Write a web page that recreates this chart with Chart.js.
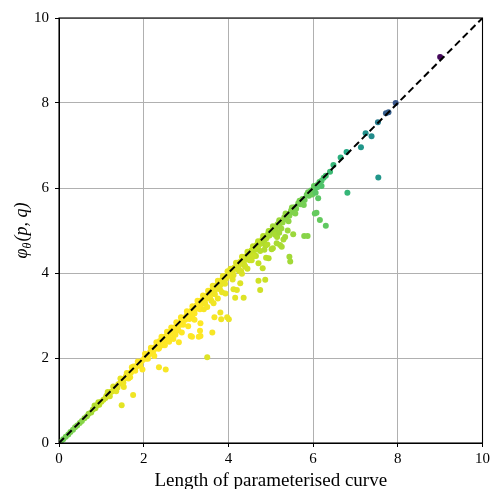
<!DOCTYPE html>
<html>
<head>
<meta charset="utf-8">
<script src="https://cdn.jsdelivr.net/npm/chart.js@4.4.1/dist/chart.umd.min.js"></script>
<style>
    html, body { margin: 0; padding: 0; background: #fff; }
    #wrap { width: 493px; height: 489px; }
</style>
</head>
<body>
<div id="wrap"><canvas id="curveChart"></canvas></div>
<script>
// [length of curve, phi_theta(p, q), colour value 0..1 on viridis]
const nearOrigin = [
    [0.04, 0.03, 0.78], [0.10, 0.09, 0.78], [0.16, 0.15, 0.79], [0.22, 0.20, 0.79],
    [0.27, 0.26, 0.80], [0.33, 0.31, 0.80], [0.38, 0.37, 0.81], [0.43, 0.41, 0.81],
    [0.49, 0.47, 0.82], [0.54, 0.52, 0.82], [0.60, 0.58, 0.83], [0.66, 0.63, 0.84],
    [0.70, 0.69, 0.85], [0.76, 0.72, 0.86], [0.80, 0.79, 0.87], [0.86, 0.82, 0.88],
    [0.90, 0.89, 0.89], [0.95, 0.90, 0.90], [1.00, 0.97, 0.91], [0.84, 0.88, 0.88],
    [0.93, 0.96, 0.90]
];
const band1to2 = [
    [1.05, 1.02, 0.92], [1.10, 1.06, 0.93], [1.12, 1.11, 0.93], [1.18, 1.14, 0.94],
    [1.22, 1.20, 0.94], [1.25, 1.21, 0.95], [1.30, 1.27, 0.95], [1.33, 1.31, 0.96],
    [1.36, 1.32, 0.96], [1.40, 1.38, 0.97], [1.44, 1.40, 0.97], [1.47, 1.46, 0.97],
    [1.50, 1.45, 0.98], [1.55, 1.52, 0.98], [1.58, 1.57, 0.98], [1.62, 1.58, 0.99],
    [1.66, 1.64, 0.99], [1.70, 1.66, 0.99], [1.73, 1.72, 1.00], [1.76, 1.80, 1.00],
    [1.78, 1.74, 1.00], [1.82, 1.79, 1.00], [1.85, 1.84, 1.00], [1.88, 1.83, 1.00],
    [1.90, 1.90, 1.00], [1.94, 1.92, 1.00], [1.97, 1.95, 1.00],
    [1.15, 1.20, 0.93], [1.28, 1.33, 0.95], [1.38, 1.30, 0.96], [1.45, 1.52, 0.97],
    [1.52, 1.42, 0.98], [1.60, 1.65, 0.98], [1.64, 1.52, 0.99], [1.72, 1.78, 0.99],
    [1.80, 1.70, 1.00], [1.86, 1.92, 1.00], [1.92, 1.82, 1.00], [1.20, 1.10, 0.94],
    [1.35, 1.22, 0.96],
    [1.48, 0.89, 0.96], [1.75, 1.13, 0.98], [1.53, 1.32, 0.98], [1.68, 1.55, 0.99],
    [1.97, 1.73, 1.00]
];
const band2to3 = [
    [2.02, 2.00, 1.00], [2.05, 1.98, 1.00], [2.08, 2.07, 1.00], [2.12, 2.08, 1.00],
    [2.15, 2.14, 1.00], [2.18, 2.12, 1.00], [2.20, 2.20, 1.00], [2.24, 2.19, 1.00],
    [2.27, 2.26, 1.00], [2.30, 2.24, 1.00], [2.33, 2.33, 1.00], [2.36, 2.30, 1.00],
    [2.38, 2.40, 1.00], [2.41, 2.35, 1.00], [2.44, 2.43, 1.00], [2.47, 2.42, 1.00],
    [2.50, 2.50, 1.00], [2.52, 2.45, 1.00], [2.55, 2.53, 1.00], [2.58, 2.50, 1.00],
    [2.60, 2.60, 1.00], [2.63, 2.57, 1.00], [2.66, 2.65, 1.00], [2.69, 2.62, 1.00],
    [2.72, 2.72, 1.00], [2.75, 2.68, 1.00], [2.78, 2.76, 1.00], [2.80, 2.72, 1.00],
    [2.83, 2.82, 1.00], [2.86, 2.78, 1.00], [2.89, 2.90, 1.00], [2.92, 2.85, 1.00],
    [2.95, 2.93, 1.00], [2.98, 2.90, 1.00],
    [2.03, 2.10, 1.00], [2.10, 1.98, 1.00], [2.17, 2.24, 1.00], [2.22, 2.10, 1.00],
    [2.30, 2.37, 1.00], [2.35, 2.22, 1.00], [2.42, 2.50, 1.00], [2.48, 2.35, 1.00],
    [2.55, 2.62, 1.00], [2.60, 2.45, 1.00], [2.65, 2.72, 1.00], [2.70, 2.56, 1.00],
    [2.77, 2.84, 1.00], [2.82, 2.65, 1.00], [2.88, 2.96, 1.00], [2.93, 2.78, 1.00],
    [2.25, 2.05, 1.00], [2.50, 2.30, 1.00], [2.75, 2.55, 1.00],
    [2.36, 1.78, 0.99], [2.52, 1.73, 0.99], [2.36, 2.23, 1.00], [2.60, 2.38, 1.00],
    [2.83, 2.37, 1.00], [2.70, 2.45, 1.00], [2.45, 2.30, 1.00], [2.90, 2.60, 1.00]
];
const band3to4 = [
    [3.01, 3.00, 1.00], [3.04, 2.97, 1.00], [3.07, 3.06, 1.00], [3.10, 3.03, 1.00],
    [3.13, 3.12, 1.00], [3.16, 3.08, 1.00], [3.19, 3.20, 1.00], [3.22, 3.15, 1.00],
    [3.25, 3.24, 1.00], [3.28, 3.20, 1.00], [3.31, 3.30, 1.00], [3.34, 3.25, 1.00],
    [3.37, 3.36, 0.99], [3.40, 3.32, 0.99], [3.43, 3.44, 0.99], [3.46, 3.38, 0.99],
    [3.49, 3.47, 0.99], [3.52, 3.45, 0.99], [3.55, 3.54, 0.99], [3.58, 3.50, 0.99],
    [3.61, 3.60, 0.98], [3.64, 3.55, 0.98], [3.67, 3.66, 0.98], [3.70, 3.62, 0.98],
    [3.73, 3.72, 0.98], [3.76, 3.68, 0.98], [3.79, 3.78, 0.97], [3.82, 3.73, 0.97],
    [3.85, 3.84, 0.97], [3.88, 3.80, 0.97], [3.91, 3.90, 0.97], [3.94, 3.86, 0.97],
    [3.97, 3.95, 0.97],
    [3.02, 3.10, 1.00], [3.08, 2.92, 1.00], [3.15, 3.22, 1.00], [3.20, 3.05, 1.00],
    [3.27, 3.35, 1.00], [3.33, 3.15, 1.00], [3.40, 3.47, 0.99], [3.45, 3.28, 0.99],
    [3.52, 3.58, 0.99], [3.57, 3.40, 0.99], [3.63, 3.70, 0.98], [3.68, 3.50, 0.98],
    [3.75, 3.82, 0.98], [3.80, 3.62, 0.97], [3.87, 3.93, 0.97], [3.92, 3.75, 0.97],
    [3.98, 4.04, 0.97], [3.15, 2.95, 1.00], [3.42, 3.15, 0.99], [3.60, 3.35, 0.98],
    [3.85, 3.55, 0.97],
    [3.14, 2.50, 1.00], [3.34, 2.52, 1.00], [3.33, 2.64, 1.00], [3.62, 2.60, 0.99],
    [3.34, 2.82, 1.00], [3.81, 3.07, 0.98], [3.83, 2.91, 0.98], [3.65, 3.29, 0.98],
    [3.50, 2.02, 0.95], [3.11, 2.52, 1.00], [3.30, 2.50, 1.00], [3.67, 2.96, 0.99],
    [3.97, 2.96, 0.98], [3.93, 3.52, 0.97], [3.50, 3.20, 0.99], [3.20, 2.90, 1.00],
    [3.75, 3.40, 0.98], [3.05, 2.75, 1.00]
];
const band4to5 = [
    [4.00, 3.98, 0.97], [4.04, 3.97, 0.96], [4.07, 4.06, 0.96], [4.10, 4.02, 0.96],
    [4.14, 4.13, 0.95], [4.17, 4.10, 0.95], [4.20, 4.19, 0.95], [4.24, 4.15, 0.94],
    [4.27, 4.26, 0.94], [4.30, 4.22, 0.94], [4.34, 4.33, 0.93], [4.37, 4.28, 0.93],
    [4.40, 4.39, 0.93], [4.44, 4.35, 0.92], [4.47, 4.46, 0.92], [4.50, 4.42, 0.92],
    [4.54, 4.53, 0.91], [4.57, 4.49, 0.91], [4.60, 4.59, 0.91], [4.64, 4.55, 0.90],
    [4.67, 4.66, 0.90], [4.70, 4.62, 0.90], [4.74, 4.73, 0.89], [4.77, 4.69, 0.89],
    [4.80, 4.79, 0.89], [4.84, 4.75, 0.88], [4.87, 4.86, 0.88], [4.90, 4.82, 0.88],
    [4.94, 4.93, 0.87], [4.97, 4.88, 0.87],
    [4.05, 4.10, 0.96], [4.12, 3.95, 0.96], [4.18, 4.24, 0.95], [4.25, 4.05, 0.94],
    [4.32, 4.38, 0.94], [4.38, 4.18, 0.93], [4.45, 4.50, 0.92], [4.50, 4.30, 0.92],
    [4.58, 4.63, 0.91], [4.62, 4.42, 0.91], [4.70, 4.75, 0.90], [4.75, 4.52, 0.89],
    [4.82, 4.87, 0.89], [4.88, 4.65, 0.88], [4.95, 4.99, 0.87], [4.10, 3.85, 0.96],
    [4.40, 4.15, 0.93], [4.65, 4.40, 0.90], [4.85, 4.55, 0.88],
    [4.01, 2.91, 0.97], [4.00, 3.93, 0.97], [4.36, 3.42, 0.95], [4.16, 3.42, 0.96],
    [4.12, 3.62, 0.96], [4.28, 3.76, 0.95], [4.87, 3.84, 0.92], [4.71, 3.82, 0.93],
    [4.75, 3.60, 0.93], [4.81, 4.11, 0.91], [4.20, 3.60, 0.96], [4.32, 3.98, 0.95],
    [4.89, 4.36, 0.90], [4.71, 4.23, 0.91], [4.55, 4.30, 0.92], [4.45, 4.10, 0.93],
    [4.60, 4.40, 0.92], [4.30, 4.05, 0.94]
];
const band5to6 = [
    [5.00, 4.99, 0.87], [5.04, 4.96, 0.86], [5.08, 5.07, 0.86], [5.12, 5.03, 0.86],
    [5.16, 5.15, 0.85], [5.20, 5.11, 0.85], [5.24, 5.23, 0.84], [5.28, 5.19, 0.84],
    [5.32, 5.31, 0.84], [5.36, 5.27, 0.83], [5.40, 5.39, 0.83], [5.44, 5.35, 0.82],
    [5.48, 5.47, 0.82], [5.52, 5.43, 0.81], [5.56, 5.55, 0.81], [5.60, 5.51, 0.80],
    [5.65, 5.64, 0.80], [5.70, 5.62, 0.79], [5.75, 5.74, 0.79], [5.80, 5.72, 0.78],
    [5.85, 5.84, 0.78], [5.90, 5.82, 0.77], [5.95, 5.94, 0.76], [6.00, 5.96, 0.76],
    [6.05, 6.04, 0.75], [6.10, 6.07, 0.74], [6.15, 6.14, 0.73], [6.20, 6.17, 0.72],
    [6.25, 6.24, 0.71], [6.30, 6.29, 0.70],
    [5.05, 5.10, 0.86], [5.10, 4.95, 0.86], [5.20, 5.24, 0.85], [5.25, 5.05, 0.85],
    [5.35, 5.40, 0.84], [5.42, 5.22, 0.83], [5.50, 5.54, 0.82], [5.58, 5.40, 0.81],
    [5.68, 5.70, 0.80], [5.78, 5.60, 0.79], [5.88, 5.90, 0.78], [5.98, 5.85, 0.77],
    [6.02, 6.05, 0.76],
    [5.46, 4.27, 0.86], [5.44, 4.38, 0.86], [5.79, 4.87, 0.82], [5.87, 4.87, 0.82],
    [5.53, 4.91, 0.85], [5.30, 4.79, 0.87], [5.14, 4.70, 0.87], [5.22, 4.66, 0.87],
    [5.02, 4.56, 0.88], [4.95, 4.35, 0.89], [5.05, 4.58, 0.88], [5.34, 4.85, 0.86],
    [5.15, 4.85, 0.87], [5.26, 4.62, 0.87], [4.92, 4.67, 0.89], [5.10, 4.90, 0.87],
    [5.40, 5.00, 0.85], [5.20, 4.95, 0.86],
    [6.04, 5.40, 0.76], [6.06, 5.89, 0.74], [6.12, 5.76, 0.74], [6.08, 5.42, 0.76],
    [6.16, 5.25, 0.76], [6.30, 5.11, 0.75], [6.20, 6.05, 0.72], [6.10, 6.02, 0.73]
];
const farPoints = [
    [6.40, 6.38, 0.68], [6.48, 6.54, 0.66], [6.65, 6.72, 0.63], [6.79, 6.85, 0.60],
    [6.81, 5.89, 0.66], [7.13, 6.96, 0.52], [7.24, 7.29, 0.50], [7.38, 7.22, 0.48],
    [7.53, 7.55, 0.42], [7.54, 6.25, 0.52], [7.72, 7.76, 0.30], [7.78, 7.78, 0.30],
    [7.95, 8.00, 0.27], [9.00, 9.08, 0.02]
];
const diagonal = [0, 10];
const tickValues = [0, 2, 4, 6, 8, 10];

const allPoints = [].concat(nearOrigin, band1to2, band2to3, band3to4, band4to5, band5to6, farPoints);

// viridis colour map
const viridis = ['#440154', '#482475', '#414487', '#355f8d', '#2a788e', '#21918c',
    '#22a884', '#44bf70', '#7ad151', '#bddf26', '#fde725'];
function hexRgb(h) {
    return [parseInt(h.slice(1, 3), 16), parseInt(h.slice(3, 5), 16), parseInt(h.slice(5, 7), 16)];
}
function viridisColour(v) {
    const t = Math.max(0, Math.min(1, v)) * 10;
    const i = Math.min(9, Math.floor(t));
    const f = t - i;
    const a = hexRgb(viridis[i]), b = hexRgb(viridis[i + 1]);
    const c = a.map((x, k) => Math.round(x + (b[k] - x) * f));
    return `rgb(${c[0]},${c[1]},${c[2]})`;
}

const serif = "'Liberation Serif', 'DejaVu Serif', serif";

const frameAndLabels = {
    id: 'frameAndLabels',
    afterDraw(chart) {
        const { ctx, chartArea: a } = chart;
        ctx.save();
        ctx.strokeStyle = '#000';
        ctx.lineWidth = 1.1;
        ctx.strokeRect(a.left, a.top, a.right - a.left, a.bottom - a.top);

        ctx.fillStyle = '#000';
        ctx.font = `19px ${serif}`;
        ctx.textAlign = 'center';
        ctx.textBaseline = 'alphabetic';
        ctx.fillText('Length of parameterised curve', (a.left + a.right) / 2, 486);

        // y label: phi_theta(p, q)
        const big = `italic 18px ${serif}`, small = `italic 12px ${serif}`;
        ctx.font = big;
        const w1 = ctx.measureText('φ').width;
        const w3 = ctx.measureText('(p, q)').width;
        ctx.font = small;
        const w2 = ctx.measureText('θ').width;
        const total = w1 + w2 + w3 + 1;
        ctx.translate(27, (a.top + a.bottom) / 2);
        ctx.rotate(-Math.PI / 2);
        ctx.textAlign = 'left';
        let x = -total / 2;
        ctx.font = big;
        ctx.fillText('φ', x, 0);
        x += w1;
        ctx.font = small;
        ctx.fillText('θ', x, 4);
        x += w2 + 1;
        ctx.font = big;
        ctx.fillText('(p, q)', x, 0);
        ctx.restore();
    }
};

const axisCommon = {
    type: 'linear',
    min: 0,
    max: 10,
    afterBuildTicks: s => { s.ticks = tickValues.map(v => ({ value: v })); },
    grid: {
        color: '#b0b0b0',
        lineWidth: 1,
        tickColor: '#000',
        tickLength: 4,
        drawTicks: true
    },
    border: { display: true, color: '#000', width: 1 },
    title: { display: false }
};

new Chart(document.getElementById('curveChart'), {
    data: {
        datasets: [
            {
                type: 'line',
                label: 'y = x',
                data: diagonal.map(v => ({ x: v, y: v })),
                borderColor: '#000',
                borderWidth: 2,
                borderDash: [7, 4],
                pointRadius: 0,
                fill: false,
                order: 0
            },
            {
                type: 'scatter',
                label: 'curves',
                data: allPoints.map(p => ({ x: p[0], y: p[1] })),
                backgroundColor: allPoints.map(p => viridisColour(p[2])),
                borderWidth: 0,
                pointRadius: 3,
                pointHoverRadius: 3,
                order: 1
            }
        ]
    },
    options: {
        responsive: true,
        maintainAspectRatio: false,
        animation: false,
        layout: { padding: { top: 18, right: 8, left: 0, bottom: 0 } },
        plugins: {
            legend: { display: false },
            tooltip: { enabled: false }
        },
        scales: {
            x: {
                ...axisCommon,
                position: 'bottom',
                afterFit: s => { s.height = 46; },
                ticks: { color: '#000', padding: 3, font: { family: serif, size: 15 } }
            },
            y: {
                ...axisCommon,
                position: 'left',
                afterFit: s => { s.width = 59; },
                ticks: { color: '#000', padding: 6, font: { family: serif, size: 15 } }
            }
        }
    },
    plugins: [frameAndLabels]
});
</script>
</body>
</html>
